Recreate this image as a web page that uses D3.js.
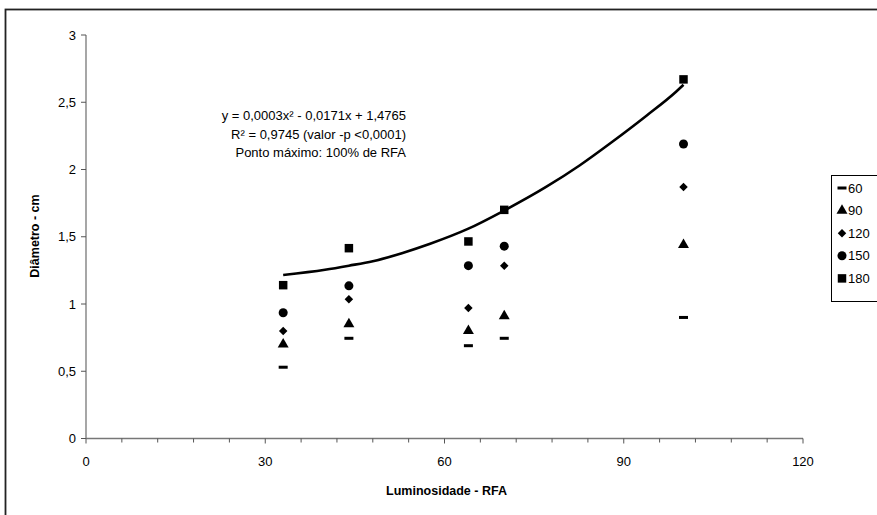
<!DOCTYPE html>
<meta charset="utf-8">
<head>
    <title>Diametro x Luminosidade</title>
    <script src="https://cdn.jsdelivr.net/npm/d3@7"></script>
    <style>
        body { margin: 0; background: #fff; }
        text { font-family: "Liberation Sans", Arial, sans-serif; fill: #000; }
    </style>
</head>
<body>
<script>

// data
var luz = [33, 44, 64, 70, 100]
var d60 = [0.53, 0.745, 0.69, 0.745, 0.90]
var d90 = [0.70, 0.85, 0.80, 0.91, 1.44]
var d120 = [0.80, 1.035, 0.97, 1.285, 1.87]
var d150 = [0.935, 1.135, 1.285, 1.43, 2.19]
var d180 = [1.14, 1.415, 1.465, 1.70, 2.67]
var seriesNames = ["60", "90", "120", "150", "180"]
// trend line
var trendX = [33, 40, 44, 48, 53, 57.6, 64, 70, 77, 82.6, 88.2, 93.8, 98.8, 100]
var trendY = [1.216, 1.255, 1.285, 1.318, 1.38, 1.448, 1.56, 1.695, 1.87, 2.03, 2.21, 2.40, 2.58, 2.63]
var xTicks = [0, 30, 60, 90, 120]
var yTicks = [0, 0.5, 1, 1.5, 2, 2.5, 3]
var eqLines = ["y = 0,0003x² - 0,0171x + 1,4765", "R² = 0,9745 (valor -p <0,0001)", "Ponto máximo: 100% de RFA"]

var w = 877
var h = 515
var svg = d3.select("body").append("svg").attr("width", w).attr("height", h)

// outer frame
svg.append("rect")
    .attr("x", 5.5).attr("y", 9.5)
    .attr("width", 900).attr("height", 600)
    .style("fill", "none").style("stroke", "#222").style("stroke-width", 1.8)

var x = d3.scaleLinear().domain([0, 120]).range([86, 803])
var y = d3.scaleLinear().domain([0, 3]).range([438.5, 35])
var fmt = function(d) { return String(d).replace(".", ",") }

// x axis
var xAxis = svg.append("g").attr("transform", "translate(0," + y(0) + ")")
xAxis.append("line").attr("x1", x(0)).attr("x2", x(120)).style("stroke", "#777").style("stroke-width", 1.3)
xAxis.selectAll(".minor").data(d3.range(0, 121, 6)).enter().append("line")
    .attr("x1", x).attr("x2", x).attr("y1", 0).attr("y2", function(d) { return d % 30 == 0 ? 5 : 4 })
    .style("stroke", "#555").style("stroke-width", 1)
xAxis.selectAll("text").data(xTicks).enter().append("text")
    .attr("x", x).attr("y", 27)
    .attr("text-anchor", "middle")
    .style("font-size", "13px")
    .text(fmt)

// y axis
var yAxis = svg.append("g").attr("transform", "translate(" + x(0) + ",0)")
yAxis.append("line").attr("y1", y(0)).attr("y2", y(3)).style("stroke", "#777").style("stroke-width", 1.3)
yAxis.selectAll(".tk").data(yTicks).enter().append("line")
    .attr("x1", -5).attr("x2", 0).attr("y1", y).attr("y2", y)
    .style("stroke", "#555").style("stroke-width", 1)
yAxis.selectAll("text").data(yTicks).enter().append("text")
    .attr("x", -10).attr("y", function(d) { return y(d) + 4.5 })
    .attr("text-anchor", "end")
    .style("font-size", "13px")
    .text(fmt)

// axis titles
svg.append("text")
    .attr("x", x(60) + 2).attr("y", 495)
    .attr("text-anchor", "middle")
    .style("font-size", "12.5px").style("font-weight", "bold")
    .text("Luminosidade - RFA")
svg.append("text")
    .attr("transform", "translate(39,236) rotate(-90)")
    .attr("text-anchor", "middle")
    .style("font-size", "12.5px").style("font-weight", "bold")
    .text("Diâmetro - cm")

// trend line
var line = d3.line().x(function(d) { return x(d[0]) }).y(function(d) { return y(d[1]) }).curve(d3.curveMonotoneX)
svg.append("path")
    .datum(d3.zip(trendX, trendY))
    .attr("d", line)
    .style("fill", "none").style("stroke", "#000").style("stroke-width", 2.6)

// markers
var symbols = [null, d3.symbolTriangle, d3.symbolDiamond2, d3.symbolCircle, d3.symbolSquare]
var sizes = [0, 52, 46, 64, 72]
var allSeries = [d60, d90, d120, d150, d180]

function drawMarker(g, i, cx, cy) {
    if (i == 0) {
        g.append("rect").attr("x", cx - 4.5).attr("y", cy - 1.5).attr("width", 9).attr("height", 3).style("fill", "#000")
    } else {
        g.append("path")
            .attr("transform", "translate(" + cx + "," + cy + ")")
            .attr("d", d3.symbol().type(symbols[i]).size(sizes[i])())
            .style("fill", "#000")
    }
}

var pts = svg.append("g")
allSeries.forEach(function(s, i) {
    s.forEach(function(v, j) { drawMarker(pts, i, x(luz[j]), y(v)) })
})

// equation text
var eq = svg.append("g")
eqLines.forEach(function(t, i) {
    eq.append("text")
        .attr("x", 406).attr("y", 120 + i * 18.5)
        .attr("text-anchor", "end")
        .style("font-size", "13px")
        .text(t)
})

// legend
var leg = svg.append("g")
leg.append("rect")
    .attr("x", 831.5).attr("y", 175.5).attr("width", 60).attr("height", 126)
    .style("fill", "#fff").style("stroke", "#000").style("stroke-width", 1)
seriesNames.forEach(function(n, i) {
    var ly = 188 + i * 22.6
    drawMarker(leg, i, 842, ly)
    leg.append("text")
        .attr("x", 848).attr("y", ly + 4.5)
        .style("font-size", "13px")
        .text(n)
})

</script>
</body>
</html>
